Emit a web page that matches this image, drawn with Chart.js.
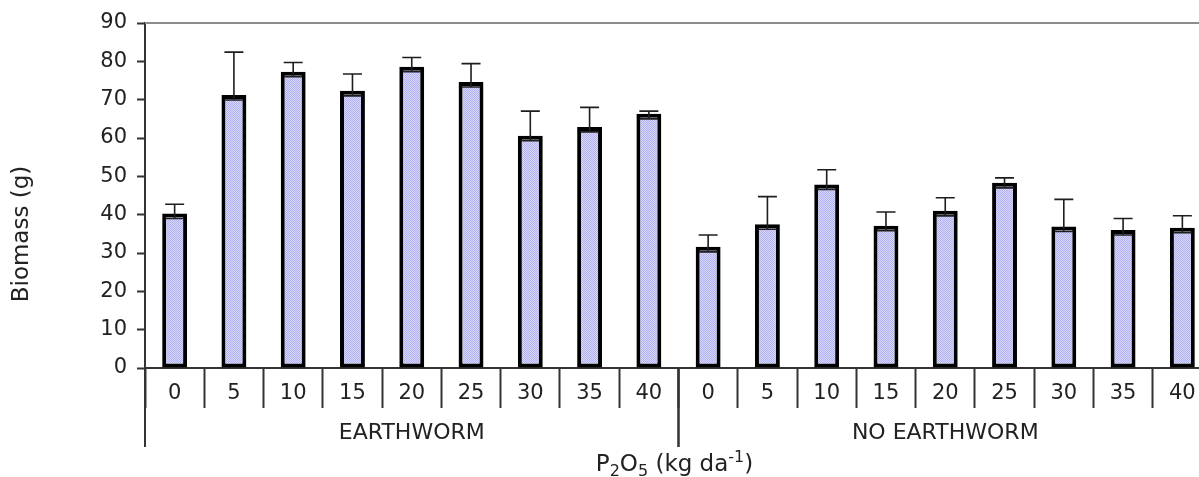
<!DOCTYPE html>
<html>
<head>
<meta charset="utf-8">
<script src="https://cdn.jsdelivr.net/npm/chart.js@4.4.1/dist/chart.umd.min.js"></script>
<style>
  html, body { margin: 0; padding: 0; background: #fff; overflow: hidden; }
  #grafico { display: block; }
</style>
</head>
<body>
<canvas id="grafico" width="1212" height="477"></canvas>
<script>
// datos
const grupos = ["EARTHWORM", "NO EARTHWORM"]
const dosis = ["0", "5", "10", "15", "20", "25", "30", "35", "40"]
const biomasaLombriz = [40.3, 71.2, 77.3, 72.3, 78.6, 74.6, 60.6, 62.9, 66.3]
const errorLombriz = [2.4, 11.2, 2.4, 4.4, 2.4, 4.8, 6.4, 5.1, 0.7]
const biomasaSinLombriz = [31.6, 37.5, 47.9, 37.1, 41.0, 48.3, 36.9, 36.0, 36.6]
const errorSinLombriz = [3.1, 7.2, 3.8, 3.6, 3.4, 1.3, 7.1, 3.0, 3.1]
const ticksY = [0, 10, 20, 30, 40, 50, 60, 70, 80, 90]

const etiquetas = dosis.concat(dosis)
const valores = biomasaLombriz.concat(biomasaSinLombriz)
const errores = errorLombriz.concat(errorSinLombriz)

const fuente = "'DejaVu Sans', 'Liberation Sans', Arial, sans-serif"

// relleno punteado de las barras
const trama = document.createElement("canvas")
trama.width = 2
trama.height = 2
const tctx = trama.getContext("2d")
tctx.fillStyle = "#d6d6fb"
tctx.fillRect(0, 0, 2, 2)
tctx.fillStyle = "#b3b3f2"
tctx.fillRect(0, 0, 1, 1)
tctx.fillRect(1, 1, 1, 1)
const relleno = tctx.createPattern(trama, "repeat")

const decoraciones = {
  id: "decoraciones",
  afterDatasetsDraw(chart) {
    const { ctx, scales: { y } } = chart
    const meta = chart.getDatasetMeta(0)
    ctx.save()
    ctx.strokeStyle = "#1e1e1e"
    ctx.lineWidth = 1.6
    meta.data.forEach((barra, i) => {
      const yBase = y.getPixelForValue(valores[i]) + 5
      const yTope = y.getPixelForValue(valores[i] + errores[i])
      ctx.beginPath()
      ctx.moveTo(barra.x, yBase)
      ctx.lineTo(barra.x, yTope)
      ctx.moveTo(barra.x - 9.5, yTope)
      ctx.lineTo(barra.x + 9.5, yTope)
      ctx.moveTo(barra.x - 9.5, yBase)
      ctx.lineTo(barra.x + 9.5, yBase)
      ctx.stroke()
    })
    ctx.restore()
  },
  afterDraw(chart) {
    const { ctx, chartArea, scales: { x, y } } = chart
    const ancho = x.getPixelForValue(1) - x.getPixelForValue(0)
    ctx.save()

    // borde superior gris
    ctx.strokeStyle = "#8c8c8c"
    ctx.lineWidth = 2
    ctx.beginPath()
    ctx.moveTo(chartArea.left, chartArea.top)
    ctx.lineTo(chartArea.right, chartArea.top)
    ctx.stroke()

    // separadores de grupo y nombres
    ctx.strokeStyle = "#333"
    ctx.lineWidth = 2
    ctx.fillStyle = "#222"
    ctx.font = "22px " + fuente
    ctx.textAlign = "center"
    ctx.textBaseline = "middle"
    grupos.forEach((g, k) => {
      const ini = x.getPixelForValue(k * dosis.length) - ancho / 2
      const fin = x.getPixelForValue((k + 1) * dosis.length - 1) + ancho / 2
      ctx.beginPath()
      ctx.moveTo(ini, x.top)
      ctx.lineTo(ini, x.top + 79)
      ctx.moveTo(fin, x.top)
      ctx.lineTo(fin, x.top + 79)
      ctx.stroke()
      ctx.fillText(g, (ini + fin) / 2, x.top + 65)
    })

    // titulo eje x: P2O5 (kg da-1)
    const partes = [
      { t: "P", f: 23, dy: 0 },
      { t: "2", f: 16, dy: 5 },
      { t: "O", f: 23, dy: 0 },
      { t: "5", f: 16, dy: 5 },
      { t: " (kg da", f: 23, dy: 0 },
      { t: "-1", f: 16, dy: -9 },
      { t: ")", f: 23, dy: 0 },
    ]
    ctx.textAlign = "left"
    ctx.textBaseline = "alphabetic"
    let total = 0
    partes.forEach((p) => {
      ctx.font = p.f + "px " + fuente
      p.w = ctx.measureText(p.t).width
      total += p.w
    })
    let px = (chartArea.left + chartArea.right) / 2 - 4 - total / 2
    const base = x.top + 103
    partes.forEach((p) => {
      ctx.font = p.f + "px " + fuente
      ctx.fillText(p.t, px, base + p.dy)
      px += p.w
    })

    // titulo eje y
    ctx.font = "23px " + fuente
    ctx.textAlign = "center"
    ctx.textBaseline = "middle"
    ctx.translate(22, 234)
    ctx.rotate(-Math.PI / 2)
    ctx.fillText("Biomass (g)", 0, 0)
    ctx.restore()
  },
}

new Chart(document.getElementById("grafico"), {
  type: "bar",
  data: {
    labels: etiquetas,
    datasets: [
      {
        data: valores,
        backgroundColor: relleno,
        borderColor: "#000",
        borderWidth: 4,
        borderSkipped: false,
        barPercentage: 0.42,
        categoryPercentage: 1,
      },
    ],
  },
  options: {
    responsive: false,
    animation: false,
    layout: { padding: { top: 23, left: 0, right: 0, bottom: 0 } },
    plugins: { legend: { display: false }, tooltip: { enabled: false } },
    scales: {
      x: {
        offset: true,
        grid: {
          offset: true,
          drawOnChartArea: false,
          drawTicks: true,
          tickLength: 40,
          tickWidth: 2,
          tickColor: "#333",
        },
        border: { display: true, color: "#333", width: 2 },
        ticks: {
          color: "#222",
          font: { family: fuente, size: 21 },
          padding: -27,
          maxRotation: 0,
          autoSkip: false,
        },
        afterFit: (escala) => { escala.height = 109 },
      },
      y: {
        min: 0,
        max: 90,
        afterBuildTicks: (escala) => { escala.ticks = ticksY.map((v) => ({ value: v })) },
        grid: {
          drawOnChartArea: false,
          drawTicks: true,
          tickLength: 8,
          tickWidth: 2,
          tickColor: "#333",
        },
        border: { display: true, color: "#333", width: 2 },
        ticks: {
          color: "#222",
          font: { family: fuente, size: 21 },
          padding: 10,
        },
        afterFit: (escala) => { escala.width = 145 },
      },
    },
  },
  plugins: [decoraciones],
})
</script>
</body>
</html>
